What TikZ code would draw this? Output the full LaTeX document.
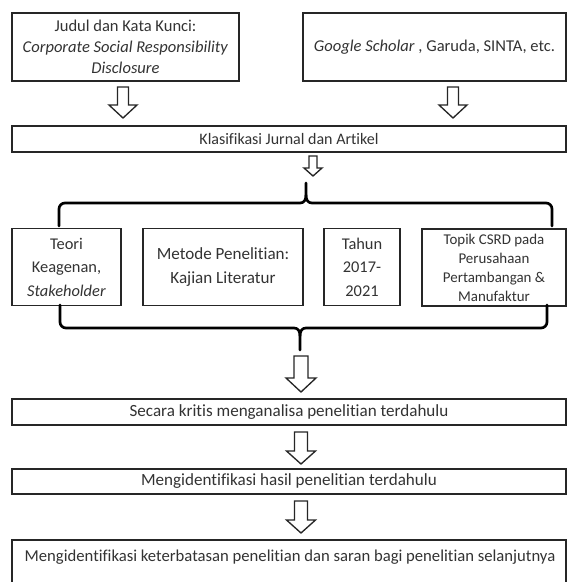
\documentclass[tikz,border=0pt]{standalone}
\usepackage{fontspec}
\setmainfont[Ligatures={NoCommon,NoRequired,NoContextual},Contextuals={NoAlternate}]{Carlito}
\tikzset{
  box/.style={draw=black!85, line width=1.1pt, inner sep=0pt, align=center,
    text=black!80},
  plain/.style={inner sep=0pt, align=center, text=black!80},
  bracepath/.style={draw=black, line width=2pt, line join=round, line cap=round},
  blockarrow/.style={draw=black!85, line width=1pt, fill=white, line join=miter}
}
\newcommand{\blockdown}[6]{%
  \draw[blockarrow] (#1-#4/2,#2) -- (#1+#4/2,#2) -- (#1+#4/2,#2+#3-#6) -- (#1+#5/2,#2+#3-#6)
    -- (#1,#2+#3) -- (#1-#5/2,#2+#3-#6) -- (#1-#4/2,#2+#3-#6) -- cycle;}
\begin{document}
\begin{tikzpicture}[x=0.75pt,y=-0.75pt]
\useasboundingbox (0,0) rectangle (568,582);
\fill[white] (0,0) rectangle (568,582);

% top boxes
\node[box, minimum width=170.25pt, minimum height=51pt, font=\fontsize{12.4}{15.75}\selectfont] (judul) at (125.5,47)
  {Judul dan Kata Kunci:\\ \textit{Corporate Social Responsibility}\\ \textit{Disclosure}};
\node[box, minimum width=197.25pt, minimum height=51pt, font=\fontsize{12.4}{15.75}\selectfont] (google) at (434.5,47)
  {\textit{Google Scholar} , Garuda, SINTA, etc.};

\blockdown{123}{87}{31}{11}{28}{13}
\blockdown{453}{87}{31}{11}{28}{13}

\node[box, minimum width=415.5pt, minimum height=19.5pt, font=\fontsize{12}{14}\selectfont] (klas) at (289,139)
  {Klasifikasi Jurnal dan Artikel};

\blockdown{313}{156}{20}{8}{18}{8}

% upper brace
\draw[bracepath] (59,226) -- (59,209) arc[start angle=180, end angle=270, x radius=6, y radius=6]
  -- (300,203) .. controls (304,203) and (306,200) .. (306,195) -- (306,183);
\draw[bracepath] (552,226) -- (552,209) arc[start angle=0, end angle=-90, x radius=6, y radius=6]
  -- (312,203) .. controls (308,203) and (306,200) .. (306,195);

% row of boxes
\node[box, minimum width=81.75pt, minimum height=57.75pt, font=\fontsize{12.3}{17.6}\selectfont] (teori) at (66.5,267)
  {Teori\\ Keagenan,\\ \textit{Stakeholder}};
\node[box, minimum width=120pt, minimum height=57.75pt, font=\fontsize{12.8}{17.6}\selectfont] (metode) at (223,267)
  {Metode Penelitian:\\ Kajian Literatur};
\node[box, minimum width=57pt, minimum height=57.75pt, font=\fontsize{12.3}{17.6}\selectfont] (tahun) at (362,267)
  {Tahun\\ 2017-\\ 2021};
\node[box, minimum width=108pt, minimum height=57.75pt, font=\fontsize{11.2}{14.2}\selectfont] (topik) at (494,267.5)
  {Topik CSRD pada\\ Perusahaan\\ Pertambangan \&\\ Manufaktur};

% lower brace
\draw[bracepath] (60,305) -- (60,322) arc[start angle=180, end angle=90, x radius=6, y radius=6]
  -- (294,328) .. controls (298,328) and (300,331) .. (300,336) -- (300,350);
\draw[bracepath] (547,305) -- (547,322) arc[start angle=0, end angle=90, x radius=6, y radius=6]
  -- (306,328) .. controls (302,328) and (300,331) .. (300,336);

\blockdown{301}{356}{36}{14}{30}{14}

\node[box, minimum width=415.5pt, minimum height=19.5pt, font=\fontsize{12.8}{15}\selectfont] (kritis) at (289,412)
  {Secara kritis menganalisa penelitian terdahulu};

\blockdown{301}{432}{32}{13}{29}{13}

\node[box, minimum width=415.5pt, minimum height=18.75pt, font=\fontsize{12.8}{15}\selectfont] (hasil) at (289,481.5)
  {Mengidentifikasi hasil penelitian terdahulu};

\blockdown{301}{501}{32}{13}{29}{13}

\draw[draw=black!85, line width=1.1pt] (12,588) -- (12,540) -- (566,540) -- (566,588);
\node[plain, font=\fontsize{12.5}{15}\selectfont] (batas) at (290,557)
  {Mengidentifikasi keterbatasan penelitian dan saran bagi penelitian selanjutnya};
\end{tikzpicture}
\end{document}
